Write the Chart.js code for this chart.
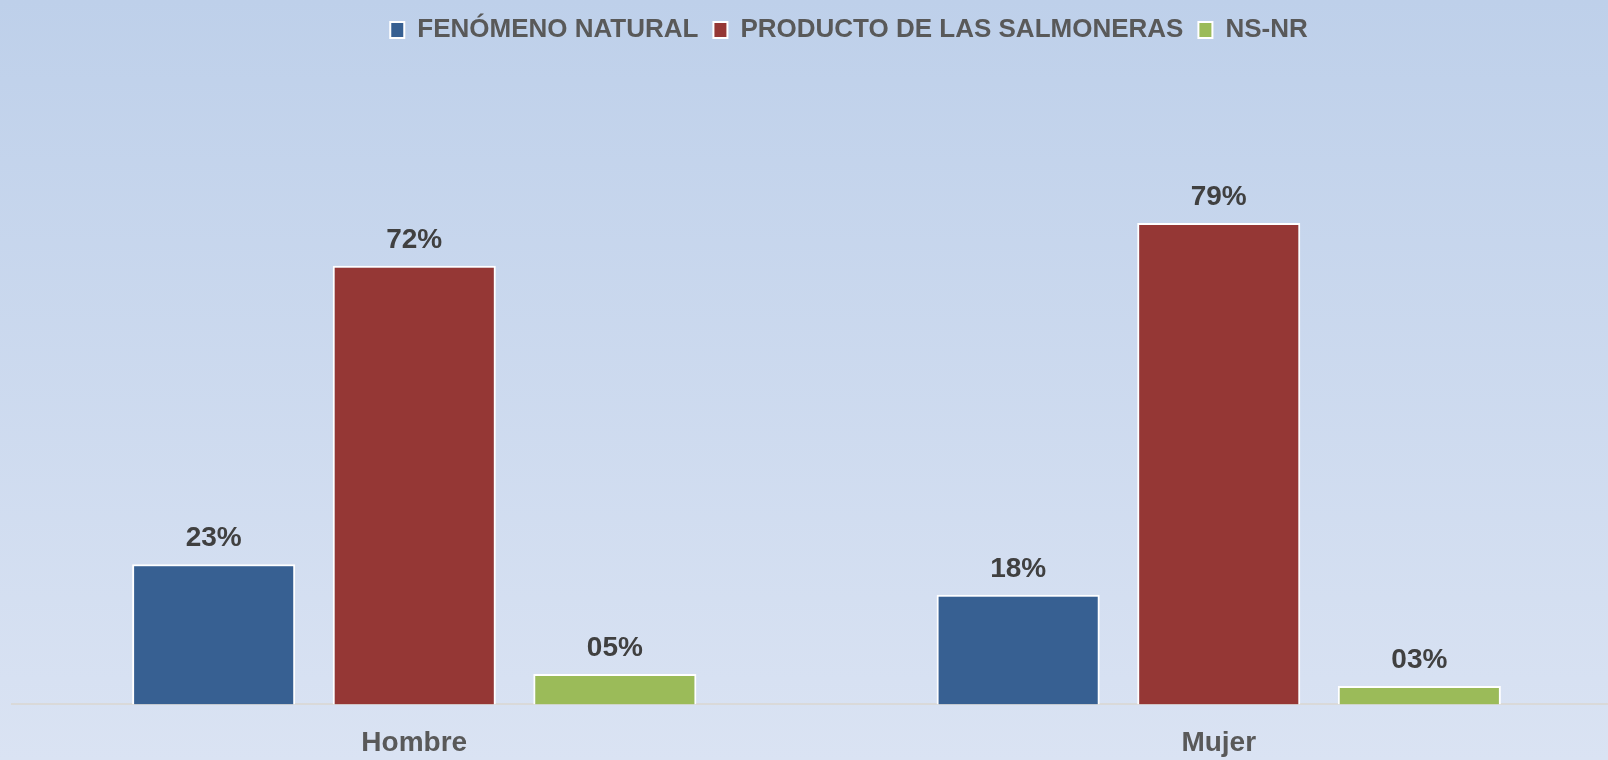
<!DOCTYPE html>
<html>
<head>
<meta charset="utf-8">
<script src="https://cdn.jsdelivr.net/npm/chart.js@4.4.1/dist/chart.umd.min.js"></script>
<style>
  html, body { margin: 0; padding: 0; width: 1608px; height: 760px; overflow: hidden; }
  body { background: linear-gradient(to bottom, #BED0EA 0%, #DAE3F3 100%); }
  #wrap { position: absolute; left: 0; top: 0; width: 1686px; height: 782px; }
</style>
</head>
<body>
<div id="wrap"><canvas id="c" width="1686" height="782"></canvas></div>
<script>
const categories = ['Hombre', 'Mujer'];
const seriesNames = ['FENÓMENO NATURAL', 'PRODUCTO DE LAS SALMONERAS', 'NS-NR'];
const fenomenoNatural = [23, 18];
const productoSalmoneras = [72, 79];
const nsNr = [5, 3];
const yMax = 90;

const FONT = "'Liberation Sans', Arial, sans-serif";

const dataLabels = {
  id: 'dataLabels',
  afterDatasetsDraw(chart) {
    const ctx = chart.ctx;
    ctx.save();
    ctx.font = "bold 28px " + FONT;
    ctx.fillStyle = '#404040';
    ctx.textAlign = 'center';
    ctx.textBaseline = 'alphabetic';
    chart.data.datasets.forEach((ds, i) => {
      const meta = chart.getDatasetMeta(i);
      meta.data.forEach((bar, j) => {
        const v = ds.data[j];
        const txt = String(v).padStart(2, '0') + '%';
        ctx.fillText(txt, bar.x, bar.y - 18);
      });
    });
    ctx.restore();
  }
};

new Chart(document.getElementById('c'), {
  type: 'bar',
  data: {
    labels: categories,
    datasets: [
      { label: seriesNames[0], data: fenomenoNatural, backgroundColor: '#376092', borderColor: '#FFFFFF', borderWidth: 2 },
      { label: seriesNames[1], data: productoSalmoneras, backgroundColor: '#953735', borderColor: '#FFFFFF', borderWidth: 2 },
      { label: seriesNames[2], data: nsNr, backgroundColor: '#9BBB59', borderColor: '#FFFFFF', borderWidth: 2 }
    ]
  },
  options: {
    responsive: false,
    animation: false,
    events: [],
    layout: { padding: { left: 12, right: 0, top: 2, bottom: 0 } },
    datasets: { bar: { categoryPercentage: 0.748, barPercentage: 0.813 } },
    plugins: {
      tooltip: { enabled: false },
      legend: {
        position: 'top',
        labels: {
          font: { family: FONT, size: 26, weight: 'bold' },
          color: '#595959',
          boxWidth: 14,
          boxHeight: 16,
          padding: 15
        }
      },
      title: {
        display: true,
        text: '',
        weight: 500,
        position: 'top',
        font: { size: 10 },
        padding: { top: 0, bottom: 91 }
      }
    },
    scales: {
      x: {
        grid: { display: false, drawTicks: false },
        border: { display: true, color: '#D9D9D9', width: 2 },
        ticks: { font: { family: FONT, size: 28, weight: 'bold' }, color: '#595959', padding: 22 }
      },
      y: {
        position: 'right',
        min: 0,
        max: yMax,
        grid: { display: false, drawTicks: false },
        border: { display: false },
        ticks: { display: false },
        afterFit(scale) { scale.width = 65; }
      }
    }
  },
  plugins: [dataLabels]
});
</script>
</body>
</html>
